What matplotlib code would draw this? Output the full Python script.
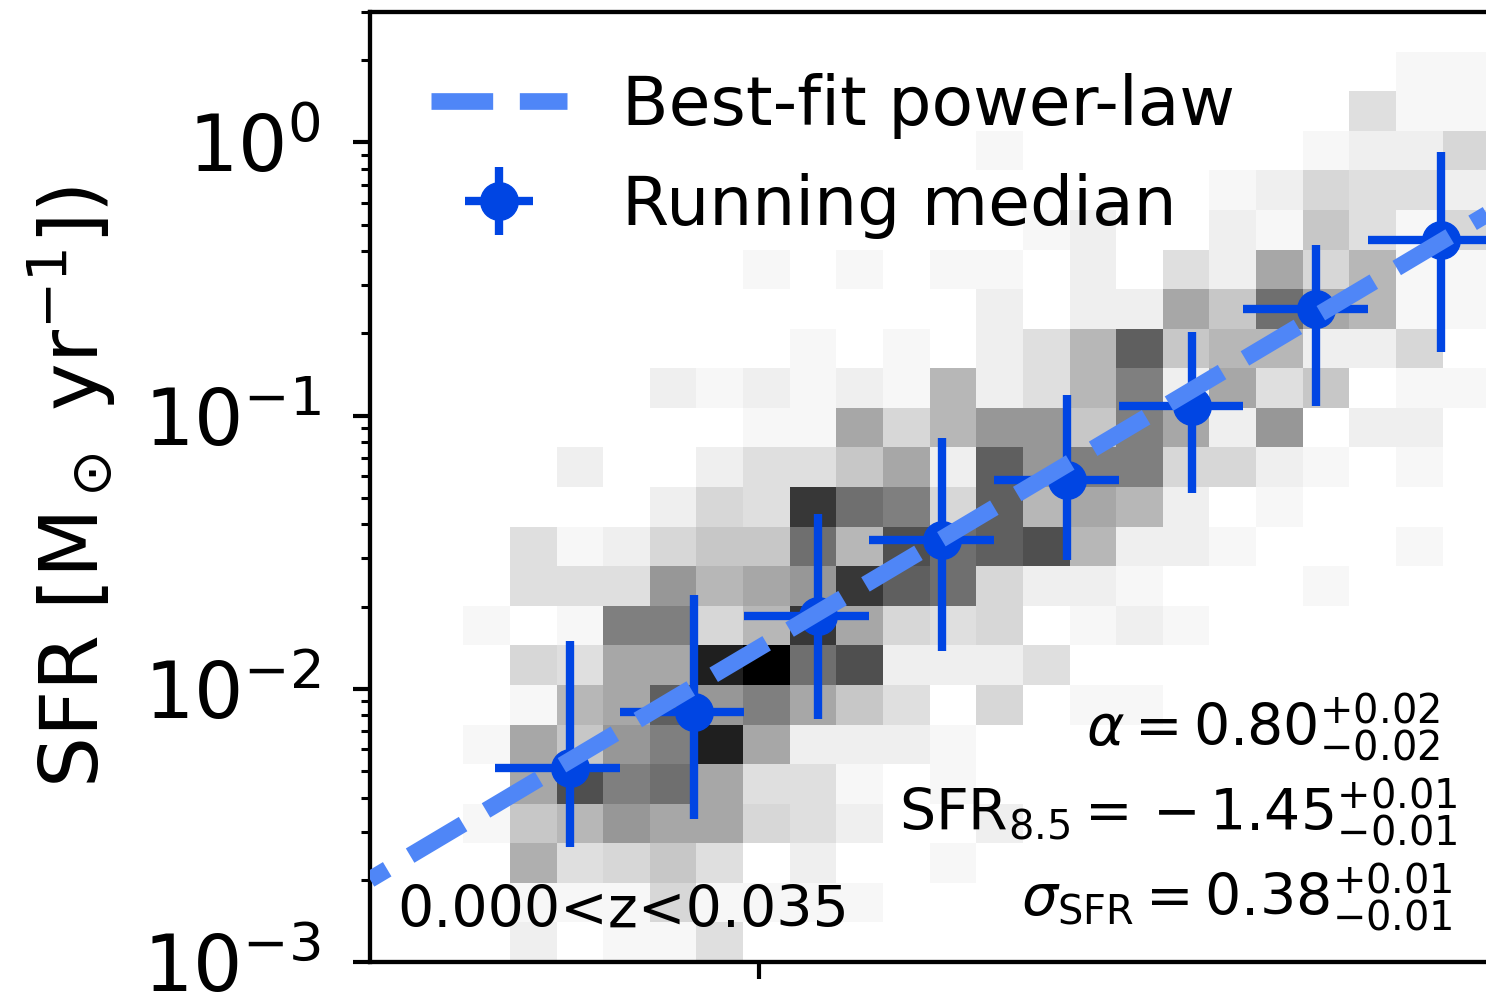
import numpy as np
import matplotlib
matplotlib.use("Agg")
import matplotlib.pyplot as plt

# log stellar mass bins (x) and SFR bins (y)
x_edges = np.linspace(6.94, 9.99, 25)
y_edges = np.logspace(-3, np.log10(3.0), 25)

# galaxy counts per cell, top row first
counts_top_down = [
    [0, 0, 0, 0, 0, 0, 0, 0, 0, 0, 0, 0, 0, 0, 0, 0, 0, 0, 0, 0, 0, 0, 0, 0],
    [0, 0, 0, 0, 0, 0, 0, 0, 0, 0, 0, 0, 0, 0, 0, 0, 0, 0, 0, 0, 0, 0, 1, 1],
    [0, 0, 0, 0, 0, 0, 0, 0, 0, 0, 0, 0, 0, 0, 0, 0, 0, 0, 0, 0, 0, 4, 1, 1],
    [0, 0, 0, 0, 0, 0, 0, 0, 0, 0, 0, 0, 0, 1, 0, 0, 0, 0, 0, 0, 1, 2, 2, 5],
    [0, 0, 0, 0, 0, 0, 0, 0, 0, 0, 0, 0, 0, 0, 0, 0, 0, 0, 1, 2, 5, 4, 4, 2],
    [0, 0, 0, 0, 0, 0, 0, 0, 0, 0, 0, 0, 0, 0, 1, 2, 0, 0, 2, 1, 7, 4, 1, 5],
    [0, 0, 0, 0, 0, 0, 0, 0, 1, 0, 1, 0, 1, 1, 0, 2, 0, 4, 2, 11, 5, 9, 1, 1],
    [0, 0, 0, 0, 0, 0, 0, 0, 0, 0, 0, 0, 0, 2, 0, 2, 2, 11, 7, 18, 11, 9, 1, 1],
    [0, 0, 0, 0, 0, 0, 0, 0, 0, 1, 0, 1, 0, 2, 4, 9, 20, 7, 9, 9, 2, 2, 5, 0],
    [0, 0, 0, 0, 0, 0, 2, 1, 2, 1, 2, 1, 9, 2, 4, 9, 16, 2, 11, 4, 7, 0, 1, 1],
    [0, 0, 0, 0, 0, 0, 0, 0, 1, 1, 11, 5, 9, 13, 13, 7, 16, 11, 2, 13, 0, 2, 2, 0],
    [0, 0, 0, 0, 2, 0, 0, 2, 4, 4, 7, 11, 2, 20, 13, 16, 16, 5, 5, 2, 1, 0, 1, 0],
    [0, 0, 0, 0, 0, 0, 2, 5, 4, 25, 18, 16, 5, 20, 9, 11, 9, 2, 0, 1, 0, 0, 0, 0],
    [0, 0, 0, 4, 1, 2, 5, 7, 7, 18, 9, 22, 18, 20, 22, 9, 2, 2, 1, 0, 0, 0, 1, 0],
    [0, 0, 0, 4, 4, 4, 13, 9, 11, 13, 25, 20, 18, 5, 2, 2, 1, 0, 0, 0, 1, 0, 0, 0],
    [0, 0, 1, 0, 1, 16, 16, 5, 9, 25, 11, 5, 4, 5, 0, 1, 2, 1, 0, 0, 0, 0, 0, 0],
    [0, 0, 0, 5, 4, 11, 11, 28, 32, 18, 22, 2, 2, 2, 4, 0, 0, 0, 0, 0, 0, 0, 0, 0],
    [0, 0, 0, 1, 9, 11, 20, 13, 16, 11, 7, 4, 0, 5, 0, 1, 1, 0, 0, 0, 0, 0, 0, 0],
    [0, 0, 1, 11, 7, 13, 16, 28, 11, 2, 2, 2, 1, 0, 0, 0, 0, 0, 0, 0, 0, 0, 0, 0],
    [0, 0, 0, 11, 22, 16, 18, 11, 4, 4, 1, 0, 1, 0, 0, 0, 0, 0, 0, 0, 0, 0, 0, 0],
    [0, 0, 1, 7, 9, 13, 11, 11, 5, 4, 2, 0, 0, 2, 0, 0, 0, 0, 0, 0, 0, 0, 0, 0],
    [0, 0, 0, 10, 4, 5, 7, 4, 0, 2, 0, 0, 1, 0, 0, 0, 0, 0, 0, 0, 0, 0, 0, 0],
    [0, 0, 0, 1, 1, 1, 5, 1, 1, 1, 1, 0, 0, 0, 0, 0, 0, 0, 0, 0, 0, 0, 0, 0],
    [0, 0, 0, 2, 0, 1, 1, 4, 0, 0, 0, 0, 0, 0, 0, 0, 0, 0, 0, 0, 0, 0, 0, 0],
]

# running median: mass bins, median mass and SFR percentiles per bin
med_bin_edges = [7.28, 7.62, 7.96, 8.30, 8.64, 8.98, 9.32, 9.66, 10.00]
med_logm = [7.485, 7.823, 8.161, 8.499, 8.840, 9.180, 9.518, 9.857]
med_sfr = [0.00515, 0.0082, 0.01845, 0.0350, 0.0581, 0.108, 0.245, 0.441]
sfr_p16 = [0.00263, 0.00333, 0.00773, 0.01377, 0.0297, 0.0519, 0.1085, 0.171]
sfr_p84 = [0.0150, 0.0221, 0.0438, 0.0828, 0.119, 0.2014, 0.4227, 0.923]

# power-law fit: log SFR = alpha (log M - 8.5) + SFR_8.5
alpha, alpha_err = 0.80, 0.02
sfr85, sfr85_err = -1.45, 0.01
sigma_sfr, sigma_err = 0.38, 0.01
z_lo, z_hi = 0.000, 0.035

line_col = '#4f86f7'
med_col = '#0045e3'

fig = plt.figure(figsize=(14.86, 10), dpi=100)
ax = fig.add_axes([0.249, 0.038, 0.7557, 0.95])

counts = np.array(counts_top_down[::-1])
ax.pcolormesh(x_edges, y_edges, counts, cmap='gray_r', vmin=0, vmax=32,
              shading='flat', linewidth=0, zorder=1)

m = np.array(med_logm)
be = np.array(med_bin_edges)
s = np.array(med_sfr)
eb = ax.errorbar(m, s, xerr=[m - be[:-1], be[1:] - m],
                 yerr=[s - np.array(sfr_p16), np.array(sfr_p84) - s],
                 fmt='o', color=med_col, ms=27, elinewidth=6, capsize=0,
                 zorder=3, label='Running median')

xx = np.linspace(6.94, 10.0, 200)
fit, = ax.plot(xx, 10 ** (sfr85 + alpha * (xx - 8.5)), color=line_col,
               ls=(2.5, (3.7, 1.6)), lw=12, zorder=4,
               label='Best-fit power-law')

ax.set_yscale('log')
ax.set_xlim(6.94, 10.0)
ax.set_ylim(1e-3, 3.0)
ax.set_xticks([8])
ax.set_xticklabels([])

for sp in ax.spines.values():
    sp.set_linewidth(3.1)
ax.tick_params(which='major', length=12, width=3, labelsize=56, pad=23.5)
ax.tick_params(which='minor', length=6.5, width=2.2)

ax.set_ylabel(r'SFR [M$_\odot$ yr$^{-1}$])', fontsize=58, labelpad=18)

leg = ax.legend(handles=[fit, eb], loc='upper left', fontsize=49,
                frameon=False, labelspacing=0.5)
leg.get_lines()[0].set_linestyle('--')

ax.text(0.0245, 0.037, '%.3f<z<%.3f' % (z_lo, z_hi), transform=ax.transAxes,
        fontsize=41, ha='left', va='baseline')
ax.text(0.9528, 0.2266,
        r'$\alpha = %.2f^{+%.2f}_{-%.2f}$' % (alpha, alpha_err, alpha_err),
        transform=ax.transAxes, fontsize=41, ha='right', va='baseline')
sign = '-' if sfr85 < 0 else '+'
ax.text(0.9688, 0.1372,
        r'$\mathrm{SFR}_{8.5} =\,{%s}\,%.2f^{+%.2f}_{-%.2f}$'
        % (sign, abs(sfr85), sfr85_err, sfr85_err),
        transform=ax.transAxes, fontsize=41, ha='right', va='baseline')
ax.text(0.9644, 0.0477,
        r'$\sigma_{\mathrm{SFR}} = %.2f^{+%.2f}_{-%.2f}$' % (sigma_sfr, sigma_err, sigma_err),
        transform=ax.transAxes, fontsize=41, ha='right', va='baseline')

fig.savefig('out.png', dpi=100)
